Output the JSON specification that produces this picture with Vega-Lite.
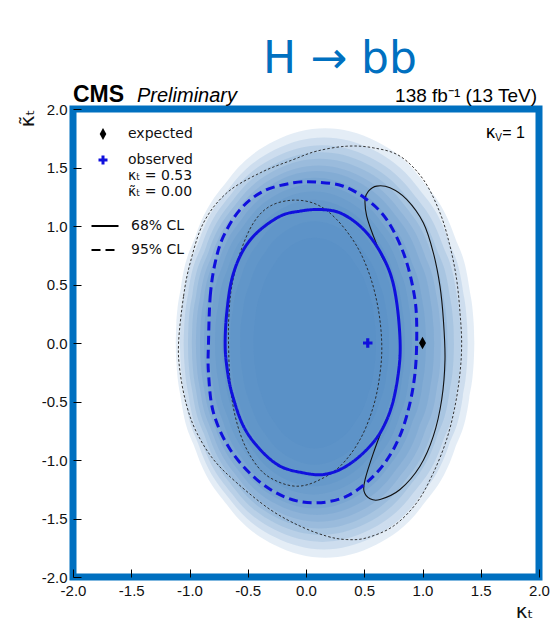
{
  "$schema": "https://vega.github.io/schema/vega-lite/v6.json",
  "width": 466,
  "height": 468,
  "autosize": {"type": "none"},
  "padding": {"left": 73, "top": 109, "right": 14, "bottom": 53},
  "background": "white",
  "config": {
    "view": {"stroke": "#0070c0", "strokeWidth": 7},
    "font": "Liberation Sans",
    "axis": {"domain": false, "grid": false, "tickSize": -8, "tickColor": "#000", "tickWidth": 1, "labelFontSize": 15, "labelFont": "Liberation Sans", "labelColor": "#111", "labelPadding": 14, "labelOverlap": false, "labelFlush": false, "titleFont": "DejaVu Sans", "titleFontWeight": "normal", "titleFontSize": 20, "titleColor": "#111"},
    "legend": {"labelFont": "DejaVu Sans", "labelFontSize": 14, "labelColor": "#111", "padding": 0}
  },
  "title": {"text": "H → bb", "font": "DejaVu Sans", "fontSize": 44, "fontWeight": "normal", "color": "#0070c0", "anchor": "middle", "frame": "group", "dx": 34, "offset": -33, "baseline": "alphabetic"},
  "datasets": {
    "heat": [
      {"lv":1,"x":-1.118,"lo":0,"hi":0},{"lv":1,"x":-1.113,"lo":-0.16,"hi":0.16},{"lv":1,"x":-1.074,"lo":-0.475,"hi":0.475},{"lv":1,"x":-0.946,"lo":-0.918,"hi":0.918},{"lv":1,"x":-0.66,"lo":-1.406,"hi":1.406},{"lv":1,"x":-0.275,"lo":-1.724,"hi":1.724},{"lv":1,"x":0.164,"lo":-1.835,"hi":1.835},{"lv":1,"x":0.602,"lo":-1.724,"hi":1.724},{"lv":1,"x":0.987,"lo":-1.406,"hi":1.406},{"lv":1,"x":1.273,"lo":-0.918,"hi":0.918},{"lv":1,"x":1.401,"lo":-0.475,"hi":0.475},{"lv":1,"x":1.44,"lo":-0.16,"hi":0.16},{"lv":1,"x":1.445,"lo":0,"hi":0},
      {"lv":2,"x":-1.082,"lo":0,"hi":0},{"lv":2,"x":-1.077,"lo":-0.154,"hi":0.153},{"lv":2,"x":-1.04,"lo":-0.457,"hi":0.455},{"lv":2,"x":-0.917,"lo":-0.883,"hi":0.879},{"lv":2,"x":-0.641,"lo":-1.352,"hi":1.346},{"lv":2,"x":-0.269,"lo":-1.659,"hi":1.651},{"lv":2,"x":0.153,"lo":-1.765,"hi":1.757},{"lv":2,"x":0.575,"lo":-1.659,"hi":1.651},{"lv":2,"x":0.947,"lo":-1.352,"hi":1.346},{"lv":2,"x":1.223,"lo":-0.883,"hi":0.879},{"lv":2,"x":1.346,"lo":-0.457,"hi":0.455},{"lv":2,"x":1.383,"lo":-0.154,"hi":0.153},{"lv":2,"x":1.388,"lo":0,"hi":0},
      {"lv":3,"x":-1.05,"lo":0,"hi":0},{"lv":3,"x":-1.045,"lo":-0.148,"hi":0.147},{"lv":3,"x":-1.009,"lo":-0.44,"hi":0.437},{"lv":3,"x":-0.891,"lo":-0.85,"hi":0.845},{"lv":3,"x":-0.625,"lo":-1.302,"hi":1.295},{"lv":3,"x":-0.267,"lo":-1.597,"hi":1.588},{"lv":3,"x":0.14,"lo":-1.7,"hi":1.69},{"lv":3,"x":0.547,"lo":-1.597,"hi":1.588},{"lv":3,"x":0.905,"lo":-1.302,"hi":1.295},{"lv":3,"x":1.171,"lo":-0.85,"hi":0.845},{"lv":3,"x":1.289,"lo":-0.44,"hi":0.437},{"lv":3,"x":1.325,"lo":-0.148,"hi":0.147},{"lv":3,"x":1.33,"lo":0,"hi":0},
      {"lv":4,"x":-1.013,"lo":0,"hi":0},{"lv":4,"x":-1.009,"lo":-0.143,"hi":0.142},{"lv":4,"x":-0.974,"lo":-0.424,"hi":0.422},{"lv":4,"x":-0.86,"lo":-0.82,"hi":0.815},{"lv":4,"x":-0.605,"lo":-1.256,"hi":1.249},{"lv":4,"x":-0.262,"lo":-1.541,"hi":1.532},{"lv":4,"x":0.129,"lo":-1.64,"hi":1.63},{"lv":4,"x":0.519,"lo":-1.541,"hi":1.532},{"lv":4,"x":0.862,"lo":-1.256,"hi":1.249},{"lv":4,"x":1.117,"lo":-0.82,"hi":0.815},{"lv":4,"x":1.231,"lo":-0.424,"hi":0.422},{"lv":4,"x":1.266,"lo":-0.143,"hi":0.142},{"lv":4,"x":1.27,"lo":0,"hi":0},
      {"lv":5,"x":-0.98,"lo":0,"hi":0},{"lv":5,"x":-0.976,"lo":-0.138,"hi":0.137},{"lv":5,"x":-0.943,"lo":-0.41,"hi":0.408},{"lv":5,"x":-0.833,"lo":-0.793,"hi":0.788},{"lv":5,"x":-0.588,"lo":-1.214,"hi":1.206},{"lv":5,"x":-0.258,"lo":-1.489,"hi":1.48},{"lv":5,"x":0.118,"lo":-1.585,"hi":1.575},{"lv":5,"x":0.493,"lo":-1.489,"hi":1.48},{"lv":5,"x":0.823,"lo":-1.214,"hi":1.206},{"lv":5,"x":1.068,"lo":-0.793,"hi":0.788},{"lv":5,"x":1.178,"lo":-0.41,"hi":0.408},{"lv":5,"x":1.211,"lo":-0.138,"hi":0.137},{"lv":5,"x":1.215,"lo":0,"hi":0},
      {"lv":6,"x":-0.945,"lo":0,"hi":0},{"lv":6,"x":-0.941,"lo":-0.133,"hi":0.132},{"lv":6,"x":-0.909,"lo":-0.395,"hi":0.393},{"lv":6,"x":-0.804,"lo":-0.764,"hi":0.759},{"lv":6,"x":-0.569,"lo":-1.17,"hi":1.163},{"lv":6,"x":-0.253,"lo":-1.436,"hi":1.426},{"lv":6,"x":0.107,"lo":-1.528,"hi":1.518},{"lv":6,"x":0.466,"lo":-1.436,"hi":1.426},{"lv":6,"x":0.782,"lo":-1.17,"hi":1.163},{"lv":6,"x":1.017,"lo":-0.764,"hi":0.759},{"lv":6,"x":1.122,"lo":-0.395,"hi":0.393},{"lv":6,"x":1.154,"lo":-0.133,"hi":0.132},{"lv":6,"x":1.158,"lo":0,"hi":0},
      {"lv":7,"x":-0.91,"lo":0,"hi":0},{"lv":7,"x":-0.906,"lo":-0.128,"hi":0.128},{"lv":7,"x":-0.876,"lo":-0.38,"hi":0.38},{"lv":7,"x":-0.775,"lo":-0.735,"hi":0.735},{"lv":7,"x":-0.551,"lo":-1.126,"hi":1.126},{"lv":7,"x":-0.249,"lo":-1.381,"hi":1.381},{"lv":7,"x":0.095,"lo":-1.47,"hi":1.47},{"lv":7,"x":0.439,"lo":-1.381,"hi":1.381},{"lv":7,"x":0.741,"lo":-1.126,"hi":1.126},{"lv":7,"x":0.965,"lo":-0.735,"hi":0.735},{"lv":7,"x":1.066,"lo":-0.38,"hi":0.38},{"lv":7,"x":1.096,"lo":-0.128,"hi":0.128},{"lv":7,"x":1.1,"lo":0,"hi":0},
      {"lv":8,"x":-0.875,"lo":0,"hi":0},{"lv":8,"x":-0.871,"lo":-0.123,"hi":0.123},{"lv":8,"x":-0.843,"lo":-0.366,"hi":0.366},{"lv":8,"x":-0.747,"lo":-0.707,"hi":0.707},{"lv":8,"x":-0.535,"lo":-1.082,"hi":1.082},{"lv":8,"x":-0.248,"lo":-1.328,"hi":1.328},{"lv":8,"x":0.078,"lo":-1.413,"hi":1.413},{"lv":8,"x":0.403,"lo":-1.328,"hi":1.328},{"lv":8,"x":0.69,"lo":-1.082,"hi":1.082},{"lv":8,"x":0.902,"lo":-0.707,"hi":0.707},{"lv":8,"x":0.998,"lo":-0.366,"hi":0.366},{"lv":8,"x":1.026,"lo":-0.123,"hi":0.123},{"lv":8,"x":1.03,"lo":0,"hi":0},
      {"lv":9,"x":-0.83,"lo":0,"hi":0},{"lv":9,"x":-0.827,"lo":-0.118,"hi":0.118},{"lv":9,"x":-0.799,"lo":-0.351,"hi":0.351},{"lv":9,"x":-0.71,"lo":-0.679,"hi":0.679},{"lv":9,"x":-0.509,"lo":-1.039,"hi":1.039},{"lv":9,"x":-0.239,"lo":-1.275,"hi":1.275},{"lv":9,"x":0.068,"lo":-1.357,"hi":1.357},{"lv":9,"x":0.374,"lo":-1.275,"hi":1.275},{"lv":9,"x":0.644,"lo":-1.039,"hi":1.039},{"lv":9,"x":0.845,"lo":-0.679,"hi":0.679},{"lv":9,"x":0.935,"lo":-0.351,"hi":0.351},{"lv":9,"x":0.962,"lo":-0.118,"hi":0.118},{"lv":9,"x":0.965,"lo":0,"hi":0},
      {"lv":10,"x":-0.78,"lo":0,"hi":0},{"lv":10,"x":-0.777,"lo":-0.113,"hi":0.113},{"lv":10,"x":-0.751,"lo":-0.335,"hi":0.335},{"lv":10,"x":-0.667,"lo":-0.647,"hi":0.647},{"lv":10,"x":-0.479,"lo":-0.991,"hi":0.991},{"lv":10,"x":-0.225,"lo":-1.216,"hi":1.216},{"lv":10,"x":0.064,"lo":-1.294,"hi":1.294},{"lv":10,"x":0.353,"lo":-1.216,"hi":1.216},{"lv":10,"x":0.607,"lo":-0.991,"hi":0.991},{"lv":10,"x":0.795,"lo":-0.647,"hi":0.647},{"lv":10,"x":0.879,"lo":-0.335,"hi":0.335},{"lv":10,"x":0.905,"lo":-0.113,"hi":0.113},{"lv":10,"x":0.908,"lo":0,"hi":0},
      {"lv":11,"x":-0.72,"lo":0,"hi":0},{"lv":11,"x":-0.717,"lo":-0.107,"hi":0.107},{"lv":11,"x":-0.693,"lo":-0.317,"hi":0.317},{"lv":11,"x":-0.615,"lo":-0.613,"hi":0.613},{"lv":11,"x":-0.44,"lo":-0.938,"hi":0.938},{"lv":11,"x":-0.204,"lo":-1.151,"hi":1.151},{"lv":11,"x":0.065,"lo":-1.225,"hi":1.225},{"lv":11,"x":0.334,"lo":-1.151,"hi":1.151},{"lv":11,"x":0.57,"lo":-0.938,"hi":0.938},{"lv":11,"x":0.745,"lo":-0.613,"hi":0.613},{"lv":11,"x":0.823,"lo":-0.317,"hi":0.317},{"lv":11,"x":0.847,"lo":-0.107,"hi":0.107},{"lv":11,"x":0.85,"lo":0,"hi":0},
      {"lv":12,"x":-0.65,"lo":0,"hi":0},{"lv":12,"x":-0.647,"lo":-0.1,"hi":0.1},{"lv":12,"x":-0.625,"lo":-0.296,"hi":0.296},{"lv":12,"x":-0.554,"lo":-0.573,"hi":0.573},{"lv":12,"x":-0.393,"lo":-0.877,"hi":0.877},{"lv":12,"x":-0.176,"lo":-1.076,"hi":1.076},{"lv":12,"x":0.07,"lo":-1.145,"hi":1.145},{"lv":12,"x":0.316,"lo":-1.076,"hi":1.076},{"lv":12,"x":0.533,"lo":-0.877,"hi":0.877},{"lv":12,"x":0.694,"lo":-0.573,"hi":0.573},{"lv":12,"x":0.765,"lo":-0.296,"hi":0.296},{"lv":12,"x":0.787,"lo":-0.1,"hi":0.1},{"lv":12,"x":0.79,"lo":0,"hi":0},
      {"lv":13,"x":-0.565,"lo":0,"hi":0},{"lv":13,"x":-0.563,"lo":-0.091,"hi":0.091},{"lv":13,"x":-0.543,"lo":-0.269,"hi":0.269},{"lv":13,"x":-0.479,"lo":-0.52,"hi":0.52},{"lv":13,"x":-0.337,"lo":-0.797,"hi":0.797},{"lv":13,"x":-0.145,"lo":-0.977,"hi":0.977},{"lv":13,"x":0.074,"lo":-1.04,"hi":1.04},{"lv":13,"x":0.293,"lo":-0.977,"hi":0.977},{"lv":13,"x":0.485,"lo":-0.797,"hi":0.797},{"lv":13,"x":0.627,"lo":-0.52,"hi":0.52},{"lv":13,"x":0.691,"lo":-0.269,"hi":0.269},{"lv":13,"x":0.711,"lo":-0.091,"hi":0.091},{"lv":13,"x":0.713,"lo":0,"hi":0},
      {"lv":14,"x":-0.45,"lo":0,"hi":0},{"lv":14,"x":-0.448,"lo":-0.078,"hi":0.078},{"lv":14,"x":-0.432,"lo":-0.233,"hi":0.233},{"lv":14,"x":-0.38,"lo":-0.45,"hi":0.45},{"lv":14,"x":-0.263,"lo":-0.689,"hi":0.689},{"lv":14,"x":-0.105,"lo":-0.846,"hi":0.846},{"lv":14,"x":0.075,"lo":-0.9,"hi":0.9},{"lv":14,"x":0.255,"lo":-0.846,"hi":0.846},{"lv":14,"x":0.413,"lo":-0.689,"hi":0.689},{"lv":14,"x":0.53,"lo":-0.45,"hi":0.45},{"lv":14,"x":0.582,"lo":-0.233,"hi":0.233},{"lv":14,"x":0.598,"lo":-0.078,"hi":0.078},{"lv":14,"x":0.6,"lo":0,"hi":0}
    ],
    "contours": [
      {"c":"obs68","cl":"68% CL","i":0,"x":-0.694,"y":0},{"c":"obs68","cl":"68% CL","i":1,"x":-0.68,"y":0.258},{"c":"obs68","cl":"68% CL","i":2,"x":-0.637,"y":0.543},{"c":"obs68","cl":"68% CL","i":3,"x":-0.551,"y":0.771},{"c":"obs68","cl":"68% CL","i":4,"x":-0.422,"y":0.942},{"c":"obs68","cl":"68% CL","i":5,"x":-0.222,"y":1.084},{"c":"obs68","cl":"68% CL","i":6,"x":-0.051,"y":1.127},{"c":"obs68","cl":"68% CL","i":7,"x":0.121,"y":1.141},{"c":"obs68","cl":"68% CL","i":8,"x":0.292,"y":1.112},{"c":"obs68","cl":"68% CL","i":9,"x":0.464,"y":0.999},{"c":"obs68","cl":"68% CL","i":10,"x":0.607,"y":0.828},{"c":"obs68","cl":"68% CL","i":11,"x":0.721,"y":0.6},{"c":"obs68","cl":"68% CL","i":12,"x":0.779,"y":0.343},{"c":"obs68","cl":"68% CL","i":13,"x":0.808,"y":0},{"c":"obs68","cl":"68% CL","i":14,"x":0.793,"y":-0.255},{"c":"obs68","cl":"68% CL","i":15,"x":0.736,"y":-0.54},{"c":"obs68","cl":"68% CL","i":16,"x":0.636,"y":-0.768},{"c":"obs68","cl":"68% CL","i":17,"x":0.493,"y":-0.939},{"c":"obs68","cl":"68% CL","i":18,"x":0.321,"y":-1.067},{"c":"obs68","cl":"68% CL","i":19,"x":0.15,"y":-1.124},{"c":"obs68","cl":"68% CL","i":20,"x":-0.022,"y":-1.11},{"c":"obs68","cl":"68% CL","i":21,"x":-0.222,"y":-1.053},{"c":"obs68","cl":"68% CL","i":22,"x":-0.394,"y":-0.91},{"c":"obs68","cl":"68% CL","i":23,"x":-0.537,"y":-0.711},{"c":"obs68","cl":"68% CL","i":24,"x":-0.637,"y":-0.426},{"c":"obs68","cl":"68% CL","i":25,"x":-0.68,"y":-0.198},
      {"c":"obs95","cl":"95% CL","i":0,"x":-0.837,"y":0},{"c":"obs95","cl":"95% CL","i":1,"x":-0.822,"y":0.4},{"c":"obs95","cl":"95% CL","i":2,"x":-0.78,"y":0.685},{"c":"obs95","cl":"95% CL","i":3,"x":-0.708,"y":0.913},{"c":"obs95","cl":"95% CL","i":4,"x":-0.565,"y":1.141},{"c":"obs95","cl":"95% CL","i":5,"x":-0.365,"y":1.298},{"c":"obs95","cl":"95% CL","i":6,"x":-0.108,"y":1.369},{"c":"obs95","cl":"95% CL","i":7,"x":0.092,"y":1.375},{"c":"obs95","cl":"95% CL","i":8,"x":0.321,"y":1.34},{"c":"obs95","cl":"95% CL","i":9,"x":0.521,"y":1.227},{"c":"obs95","cl":"95% CL","i":10,"x":0.693,"y":1.055},{"c":"obs95","cl":"95% CL","i":11,"x":0.836,"y":0.771},{"c":"obs95","cl":"95% CL","i":12,"x":0.921,"y":0.457},{"c":"obs95","cl":"95% CL","i":13,"x":0.95,"y":0.172},{"c":"obs95","cl":"95% CL","i":14,"x":0.936,"y":-0.255},{"c":"obs95","cl":"95% CL","i":15,"x":0.864,"y":-0.625},{"c":"obs95","cl":"95% CL","i":16,"x":0.75,"y":-0.91},{"c":"obs95","cl":"95% CL","i":17,"x":0.579,"y":-1.138},{"c":"obs95","cl":"95% CL","i":18,"x":0.35,"y":-1.309},{"c":"obs95","cl":"95% CL","i":19,"x":0.092,"y":-1.366},{"c":"obs95","cl":"95% CL","i":20,"x":-0.165,"y":-1.323},{"c":"obs95","cl":"95% CL","i":21,"x":-0.422,"y":-1.167},{"c":"obs95","cl":"95% CL","i":22,"x":-0.651,"y":-0.91},{"c":"obs95","cl":"95% CL","i":23,"x":-0.794,"y":-0.597},{"c":"obs95","cl":"95% CL","i":24,"x":-0.837,"y":-0.255},
      {"c":"exp95o","cl":"95% CL","i":0,"x":-1.094,"y":0},{"c":"exp95o","cl":"95% CL","i":1,"x":-1.051,"y":0.4},{"c":"exp95o","cl":"95% CL","i":2,"x":-0.994,"y":0.685},{"c":"exp95o","cl":"95% CL","i":3,"x":-0.88,"y":1.027},{"c":"exp95o","cl":"95% CL","i":4,"x":-0.68,"y":1.283},{"c":"exp95o","cl":"95% CL","i":5,"x":-0.394,"y":1.454},{"c":"exp95o","cl":"95% CL","i":6,"x":-0.108,"y":1.568},{"c":"exp95o","cl":"95% CL","i":7,"x":0.092,"y":1.64},{"c":"exp95o","cl":"95% CL","i":8,"x":0.35,"y":1.682},{"c":"exp95o","cl":"95% CL","i":9,"x":0.578,"y":1.668},{"c":"exp95o","cl":"95% CL","i":10,"x":0.807,"y":1.597},{"c":"exp95o","cl":"95% CL","i":11,"x":1.007,"y":1.397},{"c":"exp95o","cl":"95% CL","i":12,"x":1.15,"y":1.113},{"c":"exp95o","cl":"95% CL","i":13,"x":1.236,"y":0.828},{"c":"exp95o","cl":"95% CL","i":14,"x":1.293,"y":0.543},{"c":"exp95o","cl":"95% CL","i":15,"x":1.322,"y":0.258},{"c":"exp95o","cl":"95% CL","i":16,"x":1.336,"y":0},{"c":"exp95o","cl":"95% CL","i":17,"x":1.322,"y":-0.255},{"c":"exp95o","cl":"95% CL","i":18,"x":1.279,"y":-0.54},{"c":"exp95o","cl":"95% CL","i":19,"x":1.207,"y":-0.825},{"c":"exp95o","cl":"95% CL","i":20,"x":1.093,"y":-1.11},{"c":"exp95o","cl":"95% CL","i":21,"x":0.95,"y":-1.366},{"c":"exp95o","cl":"95% CL","i":22,"x":0.75,"y":-1.565},{"c":"exp95o","cl":"95% CL","i":23,"x":0.521,"y":-1.665},{"c":"exp95o","cl":"95% CL","i":24,"x":0.35,"y":-1.68},{"c":"exp95o","cl":"95% CL","i":25,"x":0.178,"y":-1.651},{"c":"exp95o","cl":"95% CL","i":26,"x":-0.051,"y":-1.565},{"c":"exp95o","cl":"95% CL","i":27,"x":-0.308,"y":-1.423},{"c":"exp95o","cl":"95% CL","i":28,"x":-0.594,"y":-1.195},{"c":"exp95o","cl":"95% CL","i":29,"x":-0.794,"y":-0.996},{"c":"exp95o","cl":"95% CL","i":30,"x":-0.937,"y":-0.768},{"c":"exp95o","cl":"95% CL","i":31,"x":-1.023,"y":-0.54},{"c":"exp95o","cl":"95% CL","i":32,"x":-1.08,"y":-0.255},
      {"c":"exp95i","cl":"95% CL","i":0,"x":-0.665,"y":0},{"c":"exp95i","cl":"95% CL","i":1,"x":-0.662,"y":0.229},{"c":"exp95i","cl":"95% CL","i":2,"x":-0.637,"y":0.486},{"c":"exp95i","cl":"95% CL","i":3,"x":-0.565,"y":0.771},{"c":"exp95i","cl":"95% CL","i":4,"x":-0.451,"y":1.027},{"c":"exp95i","cl":"95% CL","i":5,"x":-0.308,"y":1.17},{"c":"exp95i","cl":"95% CL","i":6,"x":-0.108,"y":1.221},{"c":"exp95i","cl":"95% CL","i":7,"x":0.092,"y":1.184},{"c":"exp95i","cl":"95% CL","i":8,"x":0.264,"y":1.055},{"c":"exp95i","cl":"95% CL","i":9,"x":0.436,"y":0.828},{"c":"exp95i","cl":"95% CL","i":10,"x":0.55,"y":0.571},{"c":"exp95i","cl":"95% CL","i":11,"x":0.621,"y":0.286},{"c":"exp95i","cl":"95% CL","i":12,"x":0.65,"y":0},{"c":"exp95i","cl":"95% CL","i":13,"x":0.636,"y":-0.255},{"c":"exp95i","cl":"95% CL","i":14,"x":0.579,"y":-0.54},{"c":"exp95i","cl":"95% CL","i":15,"x":0.464,"y":-0.825},{"c":"exp95i","cl":"95% CL","i":16,"x":0.293,"y":-1.053},{"c":"exp95i","cl":"95% CL","i":17,"x":0.092,"y":-1.181},{"c":"exp95i","cl":"95% CL","i":18,"x":-0.079,"y":-1.224},{"c":"exp95i","cl":"95% CL","i":19,"x":-0.251,"y":-1.181},{"c":"exp95i","cl":"95% CL","i":20,"x":-0.394,"y":-1.081},{"c":"exp95i","cl":"95% CL","i":21,"x":-0.522,"y":-0.882},{"c":"exp95i","cl":"95% CL","i":22,"x":-0.608,"y":-0.625},{"c":"exp95i","cl":"95% CL","i":23,"x":-0.651,"y":-0.34},
      {"c":"exp68","cl":"68% CL","i":0,"x":0.507,"y":1.227},{"c":"exp68","cl":"68% CL","i":1,"x":0.536,"y":1.298},{"c":"exp68","cl":"68% CL","i":2,"x":0.607,"y":1.341},{"c":"exp68","cl":"68% CL","i":3,"x":0.721,"y":1.326},{"c":"exp68","cl":"68% CL","i":4,"x":0.864,"y":1.227},{"c":"exp68","cl":"68% CL","i":5,"x":1.007,"y":1.027},{"c":"exp68","cl":"68% CL","i":6,"x":1.093,"y":0.771},{"c":"exp68","cl":"68% CL","i":7,"x":1.15,"y":0.486},{"c":"exp68","cl":"68% CL","i":8,"x":1.179,"y":0.201},{"c":"exp68","cl":"68% CL","i":9,"x":1.193,"y":-0.141},{"c":"exp68","cl":"68% CL","i":10,"x":1.165,"y":-0.483},{"c":"exp68","cl":"68% CL","i":11,"x":1.093,"y":-0.796},{"c":"exp68","cl":"68% CL","i":12,"x":0.978,"y":-1.053},{"c":"exp68","cl":"68% CL","i":13,"x":0.807,"y":-1.252},{"c":"exp68","cl":"68% CL","i":14,"x":0.636,"y":-1.338},{"c":"exp68","cl":"68% CL","i":15,"x":0.55,"y":-1.332},{"c":"exp68","cl":"68% CL","i":16,"x":0.498,"y":-1.266},{"c":"exp68","cl":"68% CL","i":17,"x":0.507,"y":-1.167},{"c":"exp68","cl":"68% CL","i":18,"x":0.579,"y":-0.939},{"c":"exp68","cl":"68% CL","i":19,"x":0.664,"y":-0.711},{"c":"exp68","cl":"68% CL","i":20,"x":0.736,"y":-0.54},{"c":"exp68","cl":"68% CL","i":21,"x":0.793,"y":-0.255},{"c":"exp68","cl":"68% CL","i":22,"x":0.808,"y":0},{"c":"exp68","cl":"68% CL","i":23,"x":0.779,"y":0.343},{"c":"exp68","cl":"68% CL","i":24,"x":0.721,"y":0.6},{"c":"exp68","cl":"68% CL","i":25,"x":0.65,"y":0.742},{"c":"exp68","cl":"68% CL","i":26,"x":0.579,"y":0.913},{"c":"exp68","cl":"68% CL","i":27,"x":0.521,"y":1.084}
    ],
    "points": [
      {"name": "expected", "x": 1.0, "y": 0.0},
      {"name": "observed", "x": 0.53, "y": 0.0}
    ]
  },
  "layer": [
    {
      "data": {"name": "heat"},
      "mark": {"type": "area", "interpolate": "monotone", "fill": "#4d88c1", "fillOpacity": 0.15, "strokeWidth": 0},
      "encoding": {
        "x": {"field": "x", "type": "quantitative", "scale": {"domain": [-2, 2], "nice": false, "zero": false},
              "axis": {"values": [-2, -1.5, -1, -0.5, 0, 0.5, 1, 1.5, 2], "labelExpr": "replace(format(datum.value, '.1f'), '−', '-')", "title": "κₜ", "titleAnchor": "end", "titleAlign": "right", "titleBaseline": "middle", "titleX": 460, "titleY": 34}},
        "y": {"field": "lo", "type": "quantitative", "stack": null, "scale": {"domain": [-2, 2], "nice": false, "zero": false},
              "axis": {"values": [-2, -1.5, -1, -0.5, 0, 0.5, 1, 1.5, 2], "labelExpr": "replace(format(datum.value, '.1f'), '−', '-')", "title": "κ̃ₜ", "titleAlign": "right", "titleBaseline": "middle", "titleAngle": 270, "titleX": -46, "titleY": 0}},
        "y2": {"field": "hi"},
        "detail": {"field": "lv", "type": "nominal"}
      }
    },
    {
      "data": {"name": "contours"},
      "transform": [{"filter": "datum.c == 'exp95o' || datum.c == 'exp95i'"}],
      "mark": {"type": "line", "interpolate": "cardinal-closed", "color": "#222", "strokeWidth": 0.9, "strokeDash": [2.5, 2]},
      "encoding": {
        "x": {"field": "x", "type": "quantitative"},
        "y": {"field": "y", "type": "quantitative"},
        "detail": {"field": "c", "type": "nominal"},
        "order": {"field": "i", "type": "quantitative"}
      }
    },
    {
      "data": {"name": "contours"},
      "transform": [{"filter": "datum.c == 'exp68'"}],
      "mark": {"type": "line", "interpolate": "cardinal-closed", "color": "#111", "strokeWidth": 1.1},
      "encoding": {
        "x": {"field": "x", "type": "quantitative"},
        "y": {"field": "y", "type": "quantitative"},
        "order": {"field": "i", "type": "quantitative"}
      }
    },
    {
      "data": {"name": "contours"},
      "transform": [{"filter": "datum.c == 'obs68' || datum.c == 'obs95'"}],
      "mark": {"type": "line", "interpolate": "cardinal-closed", "color": "#1010dd", "strokeWidth": 3},
      "encoding": {
        "x": {"field": "x", "type": "quantitative"},
        "y": {"field": "y", "type": "quantitative"},
        "order": {"field": "i", "type": "quantitative"},
        "strokeDash": {"field": "cl", "type": "nominal",
          "scale": {"domain": ["68% CL", "95% CL"], "range": [[1, 0], [9, 5]]},
          "legend": {"orient": "none", "legendX": 17, "legendY": 102, "title": null, "symbolType": "stroke", "symbolSize": 729, "symbolStrokeWidth": 2.2, "symbolStrokeColor": "black", "labelOffset": 11, "rowPadding": 2, "padding": 0,
            "encode": {"symbols": {"update": {"stroke": {"value": "black"}, "strokeWidth": {"value": 2.2}}}}}}
      }
    },
    {
      "data": {"name": "points"},
      "mark": {"type": "point", "filled": true, "size": 160, "opacity": 1, "strokeWidth": 0},
      "encoding": {
        "x": {"field": "x", "type": "quantitative"},
        "y": {"field": "y", "type": "quantitative"},
        "shape": {"field": "name", "type": "nominal",
          "scale": {"domain": ["expected", "observed"], "range": ["M0,-1L0.55,0L0,1L-0.55,0Z", "M-0.75,-0.25H-0.25V-0.75H0.25V-0.25H0.75V0.25H0.25V0.75H-0.25V0.25H-0.75Z"]},
          "legend": {"orient": "none", "legendX": 23, "legendY": 18, "title": null, "symbolSize": 144, "labelOffset": 18, "rowPadding": 12, "padding": 0,
            "labelExpr": "datum.label == 'observed' ? ['observed', 'κₜ = 0.53', 'κ̃ₜ = 0.00'] : datum.label",
            "encode": {"labels": {"update": {"lineHeight": {"value": 21}, "dy": {"signal": "datum.label == 'observed' ? -20 : 0"}}}}}},
        "color": {"field": "name", "type": "nominal",
          "scale": {"domain": ["expected", "observed"], "range": ["#000000", "#1010dd"]},
          "legend": {"orient": "none", "legendX": 23, "legendY": 18, "title": null, "symbolSize": 144, "labelOffset": 18, "rowPadding": 12, "padding": 0,
            "labelExpr": "datum.label == 'observed' ? ['observed', 'κₜ = 0.53', 'κ̃ₜ = 0.00'] : datum.label",
            "encode": {"labels": {"update": {"lineHeight": {"value": 21}, "dy": {"signal": "datum.label == 'observed' ? -20 : 0"}}}}}}
      }
    },
    {
      "data": {"values": [{"t": "CMS"}]},
      "mark": {"type": "text", "align": "left", "baseline": "alphabetic", "dy": -7, "fontSize": 23, "fontWeight": "bold", "font": "Liberation Sans", "color": "#000"},
      "encoding": {"x": {"datum": -2}, "y": {"datum": 2}, "text": {"field": "t"}}
    },
    {
      "data": {"values": [{"t": "Preliminary"}]},
      "mark": {"type": "text", "align": "left", "baseline": "alphabetic", "dx": 64, "dy": -7, "fontSize": 20, "fontStyle": "italic", "font": "Liberation Sans", "color": "#000"},
      "encoding": {"x": {"datum": -2}, "y": {"datum": 2}, "text": {"field": "t"}}
    },
    {
      "data": {"values": [{"t": "138 fb⁻¹ (13 TeV)"}]},
      "mark": {"type": "text", "align": "right", "baseline": "alphabetic", "dx": -2, "dy": -7, "fontSize": 19, "font": "Liberation Sans", "color": "#000"},
      "encoding": {"x": {"datum": 2}, "y": {"datum": 2}, "text": {"field": "t"}}
    },
    {
      "data": {"values": [{"t": "κ"}]},
      "mark": {"type": "text", "align": "right", "baseline": "alphabetic", "dx": -44, "dy": 29, "fontSize": 18, "font": "Liberation Sans", "color": "#000"},
      "encoding": {"x": {"datum": 2}, "y": {"datum": 2}, "text": {"field": "t"}}
    },
    {
      "data": {"values": [{"t": "V"}]},
      "mark": {"type": "text", "align": "right", "baseline": "alphabetic", "dx": -37, "dy": 32, "fontSize": 10, "font": "Liberation Sans", "color": "#000"},
      "encoding": {"x": {"datum": 2}, "y": {"datum": 2}, "text": {"field": "t"}}
    },
    {
      "data": {"values": [{"t": "= 1"}]},
      "mark": {"type": "text", "align": "right", "baseline": "alphabetic", "dx": -14, "dy": 29, "fontSize": 16, "font": "Liberation Sans", "color": "#000"},
      "encoding": {"x": {"datum": 2}, "y": {"datum": 2}, "text": {"field": "t"}}
    }
  ]
}
